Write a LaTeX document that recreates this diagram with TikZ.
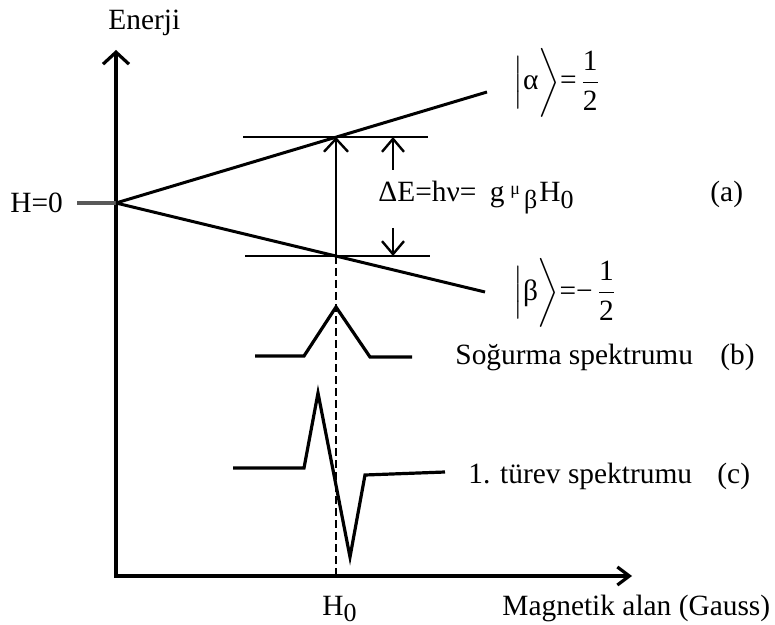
\documentclass[tikz,border=0pt]{standalone}
\usepackage{fix-cm}
\usepackage{amsmath}
\usepackage{fontspec}
\setmainfont{Liberation Serif}
\usetikzlibrary{arrows.meta,positioning}

\newcommand{\lowsub}[1]{\raisebox{-.45ex}{\fontsize{13}{15}\selectfont #1}}

\tikzset{
  axis/.style={line width=1.6pt, line join=miter},
  level/.style={line width=1.2pt},
  spec/.style={line width=1.6pt, line join=miter},
  gap/.style={line width=1.2pt, -{Straight Barb[length=6.5pt,width=11pt]}},
  lbl/.style={anchor=base west, inner sep=0pt, font=\fontsize{14.7}{17}\selectfont},
}

\begin{document}
\begin{tikzpicture}[x=0.5pt, y=-0.5pt]
  \useasboundingbox (0,0) rectangle (775,625);

  % axes
  \coordinate (etop) at (116,50);
  \coordinate (orig) at (116,576);
  \coordinate (hend) at (632,576);
  \draw[axis, {Straight Barb[length=6pt,width=13pt]}-{Straight Barb[length=6pt,width=9pt]}]
    (etop) -- (orig) -- (hend);
  \node[lbl] (enerji) at (108,30) {Enerji};
  \node[lbl] (magn) at (502,615) {Magnetik alan (Gauss)};
  \node[lbl] (hnull) at (322,615) {H\lowsub{0}};

  % zero field
  \coordinate (zero) at (116,203);
  \coordinate (ztick) at (77,203);
  \draw[line width=2pt, black!65] (ztick) -- (zero);
  \node[lbl] (hzero) at (10,213) {H=0};

  % Zeeman splitting
  \coordinate (aend) at (487,92);
  \coordinate (bend) at (485,292);
  \draw[level, line width=1.5pt] (zero) -- (aend);
  \draw[level, line width=1.5pt] (zero) -- (bend);
  \coordinate (up1) at (243,137);  \coordinate (up2) at (428,137);
  \coordinate (lo1) at (245,256);  \coordinate (lo2) at (430,256);
  \draw[level] (up1) -- (up2);
  \draw[level] (lo1) -- (lo2);
  \coordinate (res) at (336,256);
  \coordinate (resup) at (336,137);
  \draw[gap, -{Straight Barb[length=6.5pt,width=12pt]}] (res) -- (resup);
  \coordinate (d1) at (393,170);  \coordinate (d1t) at (393,137);
  \coordinate (d2) at (393,228);  \coordinate (d2t) at (393,256);
  \draw[gap] (d1) -- (d1t);
  \draw[gap] (d2) -- (d2t);
  \coordinate (resbot) at (336,576);
  \draw[line width=1.4pt, dash pattern=on 4pt off 2pt] (res) -- (resbot);

  \node[lbl] (dE) at (378,202)
    {ΔE=hν=\hspace{3pt} g\hspace{3pt}\raisebox{3.5pt}{\fontsize{9}{10}\selectfont μ}\hspace{2pt}\lowsub{β}\hspace{1pt}H\lowsub{0}};
  \node[lbl] (a) at (710,202) {(a)};
  \node[lbl] (alpha) at (513,90)
    {$\Big|$α$\bigg\rangle$=\hspace{2pt}$\dfrac{\text{1}}{\text{2}}$};
  \node[lbl] (beta) at (513,300)
    {$\Big|$β$\bigg\rangle$=−\hspace{2pt}$\dfrac{\text{1}}{\text{2}}$};

  % absorption spectrum
  \draw[spec] (255,356) coordinate (s1) -- (304,356) -- (336,307) coordinate (speak)
    -- (370,357) -- (412,357) coordinate (s2);
  \node[lbl] (sog) at (455,364) {Soğurma spektrumu};
  \node[lbl] (b) at (720,364) {(b)};

  % first derivative
  \draw[spec] (233,468) coordinate (t1) -- (304,468) -- (318,393) -- (350,557)
    -- (365,475) -- (445,472) coordinate (t2);
  \node[lbl] (tur) at (468,483) {1. türev spektrumu};
  \node[lbl] (c) at (717,483) {(c)};
\end{tikzpicture}
\end{document}
